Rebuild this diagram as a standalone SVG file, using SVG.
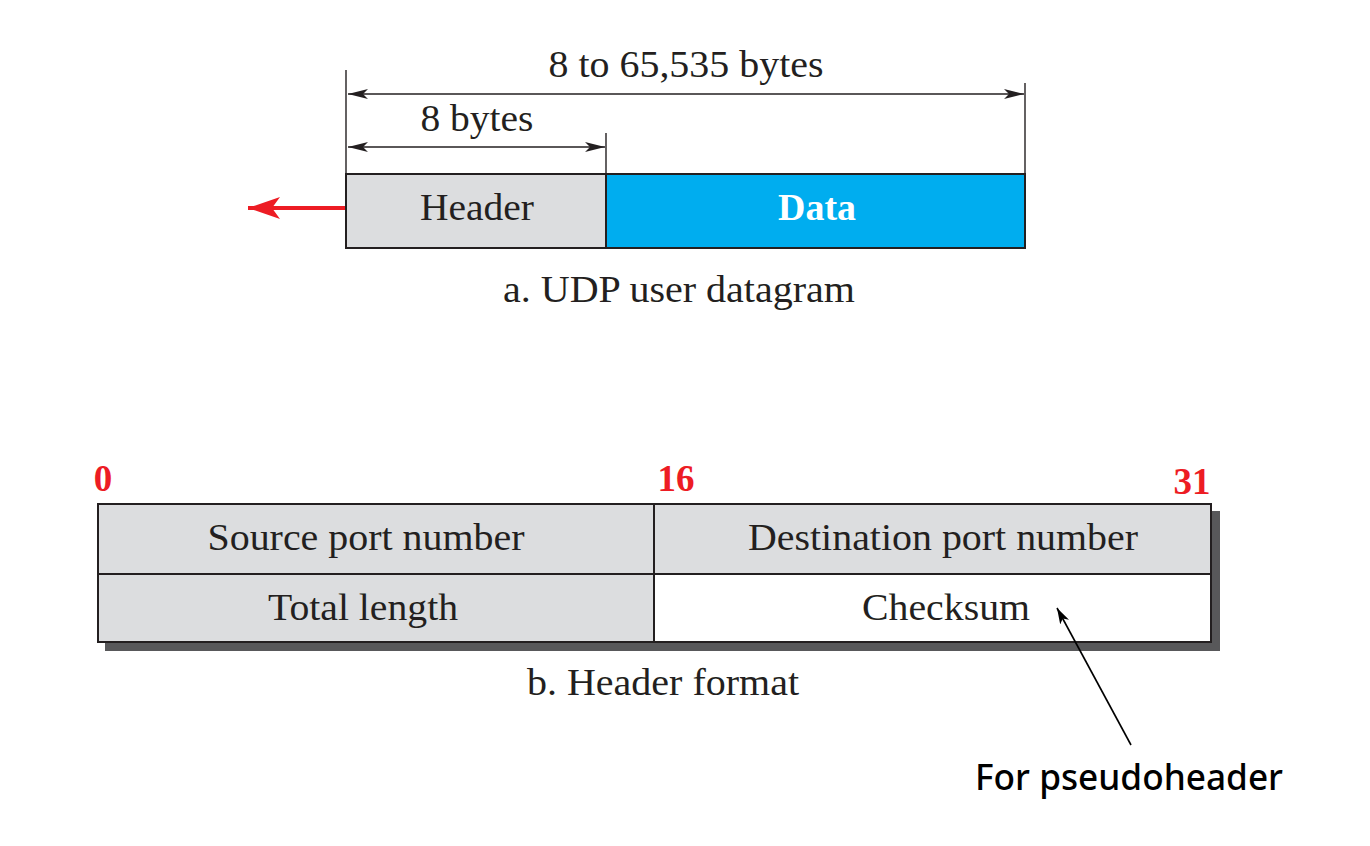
<svg xmlns="http://www.w3.org/2000/svg" width="1370" height="846" viewBox="0 0 1370 846">
<style>
.t{font-family:"Liberation Serif","Times New Roman",serif;font-size:37px;fill:#231f20;text-anchor:middle}
.n{font-family:"Liberation Serif","Times New Roman",serif;font-size:37px;font-weight:bold;fill:#ed1c24;text-anchor:middle}
.box{stroke:#231f20;stroke-width:2}
.dim{stroke:#231f20;stroke-width:1.6;fill:none}
.ext{stroke:#231f20;stroke-width:1.4}
</style>
<defs>
<marker id="ah" viewBox="0 0 20 10" refX="20" refY="5" markerWidth="20" markerHeight="10" markerUnits="userSpaceOnUse" orient="auto-start-reverse">
<path d="M0,0 L20,5 L0,10 L5,5 Z" fill="#231f20"/>
</marker>
<marker id="ar" viewBox="0 0 32 22" refX="32" refY="11" markerWidth="32" markerHeight="22" markerUnits="userSpaceOnUse" orient="auto">
<path d="M0,0 L32,11 L0,22 L8,11 Z" fill="#ed1c24"/>
</marker>
<marker id="ab" viewBox="0 0 16 10" refX="16" refY="5" markerWidth="16" markerHeight="10" markerUnits="userSpaceOnUse" orient="auto">
<path d="M0,0 L16,5 L0,10 L4,5 Z" fill="#000"/>
</marker>
</defs>
<rect width="1370" height="846" fill="#fff"/>

<g id="datagram">
<g id="header-box">
<rect class="box" x="346" y="174" width="260" height="74" fill="#dcdddf"/>
<text class="t" x="477" y="220" textLength="114" lengthAdjust="spacingAndGlyphs">Header</text>
</g>
<g id="data-box">
<rect class="box" x="606" y="174" width="419" height="74" fill="#00adef"/>
<text class="t" x="817" y="220" style="fill:#fff;font-weight:bold" textLength="78" lengthAdjust="spacingAndGlyphs">Data</text>
</g>
<text class="t" x="679" y="302" textLength="352" lengthAdjust="spacingAndGlyphs">a. UDP user datagram</text>
</g>

<g id="dimensions">
<line class="ext" x1="346" y1="70" x2="346" y2="174"/>
<line class="ext" x1="1025" y1="83" x2="1025" y2="174"/>
<line class="ext" x1="606" y1="133" x2="606" y2="174"/>
<line class="dim" x1="348" y1="94" x2="1024" y2="94" marker-start="url(#ah)" marker-end="url(#ah)"/>
<line class="dim" x1="348" y1="147" x2="605" y2="147" marker-start="url(#ah)" marker-end="url(#ah)"/>
<text class="t" x="686" y="77" textLength="275" lengthAdjust="spacingAndGlyphs">8 to 65,535 bytes</text>
<text class="t" x="477" y="131" textLength="113" lengthAdjust="spacingAndGlyphs">8 bytes</text>
</g>

<g id="header-format">
<rect x="105" y="511" width="1115" height="140" fill="#58585a"/>
<g id="src-port">
<rect class="box" x="98" y="504" width="556" height="70" fill="#dcdddf"/>
<text class="t" x="366" y="550" textLength="317" lengthAdjust="spacingAndGlyphs">Source port number</text>
</g>
<g id="dst-port">
<rect class="box" x="654" y="504" width="557" height="70" fill="#dcdddf"/>
<text class="t" x="943" y="550" textLength="390" lengthAdjust="spacingAndGlyphs">Destination port number</text>
</g>
<g id="total-length">
<rect class="box" x="98" y="574" width="556" height="68" fill="#dcdddf"/>
<text class="t" x="363" y="620" textLength="190" lengthAdjust="spacingAndGlyphs">Total length</text>
</g>
<g id="checksum">
<rect class="box" x="654" y="574" width="557" height="68" fill="#fff"/>
<text class="t" x="946" y="620" textLength="168" lengthAdjust="spacingAndGlyphs">Checksum</text>
</g>
<text class="n" x="103" y="491">0</text>
<text class="n" x="676" y="491">16</text>
<text class="n" x="1192" y="494">31</text>
<text class="t" x="663" y="695" textLength="272" lengthAdjust="spacingAndGlyphs">b. Header format</text>
</g>

<g id="pseudoheader-note">
<text x="975" y="790" font-family="'Noto Sans','Open Sans',sans-serif" font-size="37" font-weight="500" fill="#000" textLength="308" lengthAdjust="spacingAndGlyphs">For pseudoheader</text>
</g>

<g id="connectors">
<line x1="345" y1="208" x2="248" y2="208" stroke="#ed1c24" stroke-width="4" marker-end="url(#ar)"/>
<line x1="1131" y1="745" x2="1057" y2="608" stroke="#000" stroke-width="1.6" marker-end="url(#ab)"/>
</g>
</svg>
